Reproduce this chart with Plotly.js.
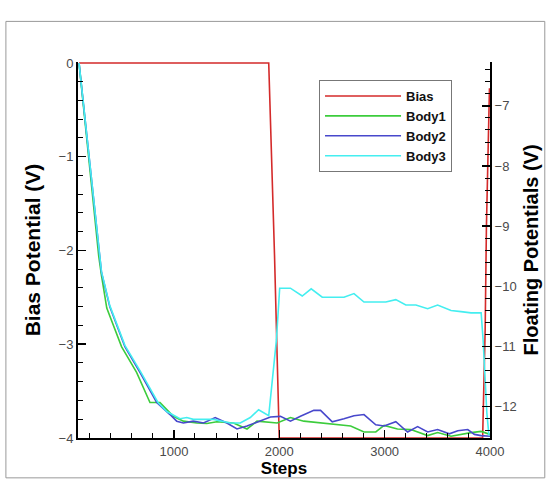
<!DOCTYPE html>
<html>
<head>
<meta charset="utf-8">
<script src="https://cdn.plot.ly/plotly-3.0.1.min.js"></script>
<style>html,body{margin:0;padding:0;background:#fff;}</style>
</head>
<body>
<div id="chart" style="width:551px;height:488px;"></div>
<script>
// ---- data ----
const seriesNames = ["Bias", "Body1", "Body2", "Body3"];

// Bias potential (left axis, V)
const biasSteps = [100, 1900, 1955, 2000, 3930, 3941, 3954, 3966, 3985, 3995];
const biasVals  = [0, 0, -2.05, -4, -4, -3.49, -2.85, -1.75, -0.82, -0.27];

// Floating potentials (right axis, V)
const body1Steps = [100, 287, 313, 363, 503, 646, 773, 868, 995, 1090, 1218, 1313, 1408, 1566, 1694, 1789, 1980, 2106, 2233, 2392, 2678, 2804, 2916, 2995, 3122, 3249, 3408, 3503, 3630, 3820, 3916, 4000];
const body1Vals  = [-6.29, -9.50, -9.82, -10.36, -11.00, -11.43, -11.93, -11.93, -12.16, -12.24, -12.27, -12.28, -12.25, -12.27, -12.37, -12.24, -12.27, -12.18, -12.24, -12.27, -12.32, -12.42, -12.42, -12.31, -12.37, -12.38, -12.48, -12.43, -12.49, -12.43, -12.41, -12.46];

const body2Steps = [100, 297, 313, 392, 535, 678, 837, 963, 1027, 1090, 1185, 1281, 1392, 1503, 1599, 1694, 1821, 1916, 2011, 2106, 2201, 2328, 2392, 2503, 2614, 2709, 2804, 2916, 2995, 3106, 3218, 3313, 3408, 3503, 3614, 3694, 3789, 3852, 3916, 4000];
const body2Vals  = [-6.29, -9.48, -9.77, -10.34, -11.00, -11.43, -11.93, -12.13, -12.24, -12.27, -12.24, -12.27, -12.18, -12.27, -12.37, -12.32, -12.24, -12.17, -12.16, -12.24, -12.16, -12.06, -12.06, -12.25, -12.20, -12.15, -12.13, -12.30, -12.32, -12.25, -12.42, -12.33, -12.42, -12.38, -12.45, -12.40, -12.38, -12.46, -12.48, -12.49];

const body3Steps = [100, 297, 313, 392, 535, 678, 849, 932, 1058, 1122, 1185, 1376, 1535, 1630, 1725, 1804, 1900, 1973, 2004, 2106, 2218, 2303, 2408, 2614, 2709, 2804, 2932, 3011, 3106, 3201, 3297, 3408, 3503, 3630, 3725, 3820, 3916, 3935, 3970, 3990];
const body3Vals  = [-6.29, -9.47, -9.76, -10.32, -10.98, -11.40, -11.93, -12.08, -12.20, -12.18, -12.21, -12.21, -12.27, -12.27, -12.18, -12.05, -12.15, -10.89, -10.03, -10.03, -10.16, -10.04, -10.18, -10.18, -10.12, -10.26, -10.26, -10.26, -10.22, -10.31, -10.31, -10.37, -10.31, -10.40, -10.42, -10.44, -10.44, -10.90, -12.10, -12.48];

const xTickVals = [1000, 2000, 3000, 4000];
const colors = ["#d42a2a", "#3ccc3c", "#4848cc", "#44eef0"];

const FONT = "Liberation Sans, Arial, sans-serif";

const traces = [
  {x: biasSteps, y: biasVals, name: seriesNames[0], yaxis: "y", mode: "lines", line: {color: colors[0], width: 1.6}},
  {x: body1Steps, y: body1Vals, name: seriesNames[1], yaxis: "y2", mode: "lines", line: {color: colors[1], width: 1.6}},
  {x: body2Steps, y: body2Vals, name: seriesNames[2], yaxis: "y2", mode: "lines", line: {color: colors[2], width: 1.6}},
  {x: body3Steps, y: body3Vals, name: seriesNames[3], yaxis: "y2", mode: "lines", line: {color: colors[3], width: 1.6}}
];

const axisCommon = {
  showgrid: false, zeroline: false, showline: true, linecolor: "#000", linewidth: 2,
  ticks: "inside", ticklen: 8, tickwidth: 1.5, tickcolor: "#000",
  tickfont: {family: FONT, size: 13, color: "#4a4a4a"}
};

const layout = {
  width: 551, height: 488,
  margin: {l: 78, r: 61, t: 62, b: 50},
  paper_bgcolor: "#fff", plot_bgcolor: "#fff",
  font: {family: FONT},
  showlegend: true,
  legend: {
    x: 0.585, y: 0.952, xanchor: "left", yanchor: "top",
    bordercolor: "#777", borderwidth: 1, bgcolor: "#fff",
    font: {family: FONT, size: 13, color: "#111", weight: "bold"},
    itemwidth: 76, entrywidth: 150, entrywidthmode: "pixels"
  },
  xaxis: Object.assign({}, axisCommon, {
    range: [90, 4000], tickvals: xTickVals, ticktext: xTickVals.map(String),
    minor: {dtick: 200, tick0: 0, ticks: "inside", ticklen: 5, tickcolor: "#000", tickwidth: 1},
    title: {text: "Steps", font: {family: FONT, size: 17, color: "#000", weight: "bold"}, standoff: 2}
  }),
  yaxis: Object.assign({}, axisCommon, {
    range: [-4, 0.01], dtick: 1, tick0: 0,
    minor: {dtick: 0.2, tick0: 0, ticks: "inside", ticklen: 5, tickcolor: "#000", tickwidth: 1},
    title: {text: "Bias Potential (V)", font: {family: FONT, size: 21, color: "#000", weight: "bold"}, standoff: 12}
  }),
  yaxis2: Object.assign({}, axisCommon, {
    overlaying: "y", side: "right",
    range: [-12.52, -6.27], dtick: 1, tick0: 0,
    minor: {dtick: 0.2, tick0: 0, ticks: "inside", ticklen: 5, tickcolor: "#000", tickwidth: 1},
    title: {text: "Floating Potentials (V)", font: {family: FONT, size: 20, color: "#000", weight: "bold"}, standoff: 8}
  }),
  shapes: [
    {type: "rect", xref: "paper", yref: "paper", x0: -0.175, x1: 1.133, y0: -0.106, y1: 1.108,
     line: {color: "#999", width: 1}, fillcolor: "rgba(0,0,0,0)", layer: "below"}
  ]
};

Plotly.newPlot("chart", traces, layout, {displayModeBar: false, staticPlot: true});
</script>
</body>
</html>
